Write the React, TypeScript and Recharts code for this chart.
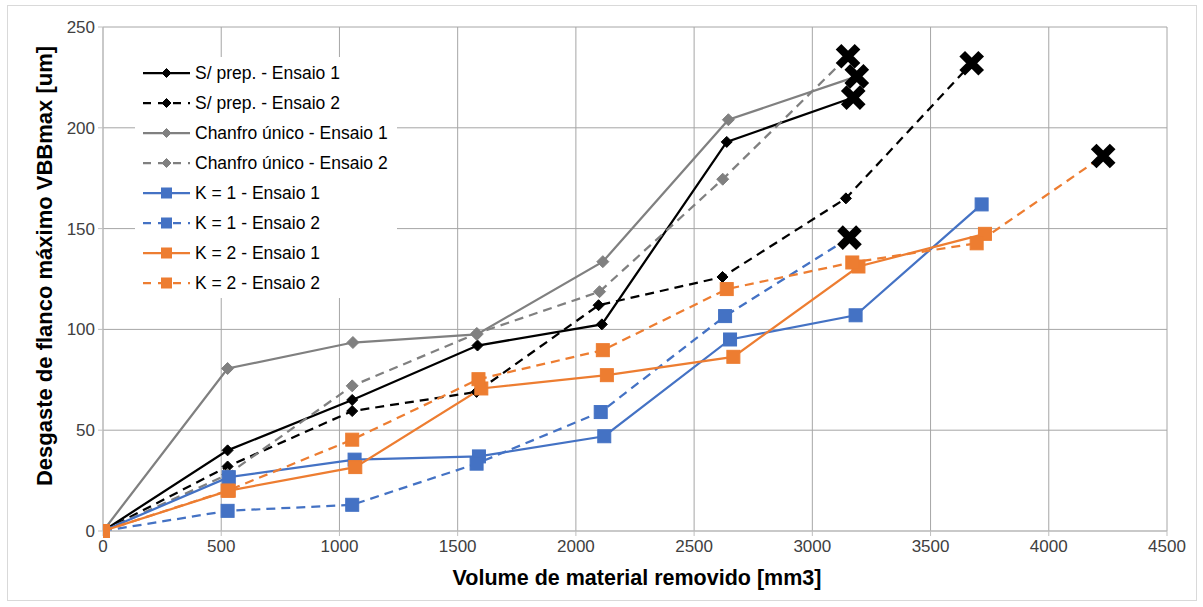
import { LineChart, Line, XAxis, YAxis, CartesianGrid } from 'recharts';

// Volume removido [mm3] e desgaste VBBmax [um]
const S_PREP_1_X = [0, 527, 1054, 1584, 2110, 2638, 3173];
const S_PREP_1_Y = [0, 40, 65, 92, 102.5, 193, 215];
const S_PREP_2_X = [0, 527, 1054, 1580, 2096, 2620, 3142, 3674];
const S_PREP_2_Y = [0, 32, 59.5, 69, 112, 126, 165, 232];
const CHANFRO_1_X = [0, 527, 1057, 1581, 2114, 2645, 3188];
const CHANFRO_1_Y = [0, 80.6, 93.5, 97.5, 133.6, 204, 225.5];
const CHANFRO_2_X = [0, 527, 1054, 1581, 2100, 2621, 3151];
const CHANFRO_2_Y = [0, 28, 72, 98, 118.7, 174.5, 235.5];
const K1_1_X = [0, 532, 1064, 1590, 2120, 2652, 3183, 3716];
const K1_1_Y = [0, 26.7, 35.4, 37, 47, 95, 107, 162];
const K1_2_X = [0, 527, 1054, 1580, 2105, 2631, 3157];
const K1_2_Y = [0, 10, 13, 33.4, 59, 106.6, 145.5];
const K2_1_X = [0, 532, 1067, 1600, 2131, 2666, 3195, 3730];
const K2_1_Y = [0, 20, 31.7, 70.7, 77.3, 86.4, 131.2, 147.4];
const K2_2_X = [0, 527, 1054, 1588, 2114, 2638, 3169, 3695, 4230];
const K2_2_Y = [0, 20, 45.3, 75.3, 89.7, 120, 133.2, 142.7, 186];

const X_TICKS = [0, 500, 1000, 1500, 2000, 2500, 3000, 3500, 4000, 4500];
const Y_TICKS = [0, 50, 100, 150, 200, 250];

const FONT = '"Liberation Sans", Arial, sans-serif';
const BLACK = '#000000';
const GRAY = '#808080';
const BLUE = '#4472C4';
const ORANGE = '#ED7D31';

type Marker = 'diamond' | 'square';

const SERIES = [
  { name: 'S/ prep. - Ensaio 1', x: S_PREP_1_X, y: S_PREP_1_Y, color: BLACK, dashed: false, marker: 'diamond' as Marker, size: 5.5, failEnd: true },
  { name: 'S/ prep. - Ensaio 2', x: S_PREP_2_X, y: S_PREP_2_Y, color: BLACK, dashed: true, marker: 'diamond' as Marker, size: 5.5, failEnd: true },
  { name: 'Chanfro único - Ensaio 1', x: CHANFRO_1_X, y: CHANFRO_1_Y, color: GRAY, dashed: false, marker: 'diamond' as Marker, size: 6, failEnd: true },
  { name: 'Chanfro único - Ensaio 2', x: CHANFRO_2_X, y: CHANFRO_2_Y, color: GRAY, dashed: true, marker: 'diamond' as Marker, size: 6, failEnd: true },
  { name: 'K = 1 - Ensaio 1', x: K1_1_X, y: K1_1_Y, color: BLUE, dashed: false, marker: 'square' as Marker, size: 6.5, failEnd: false },
  { name: 'K = 1 - Ensaio 2', x: K1_2_X, y: K1_2_Y, color: BLUE, dashed: true, marker: 'square' as Marker, size: 6.5, failEnd: true },
  { name: 'K = 2 - Ensaio 1', x: K2_1_X, y: K2_1_Y, color: ORANGE, dashed: false, marker: 'square' as Marker, size: 6.5, failEnd: false },
  { name: 'K = 2 - Ensaio 2', x: K2_2_X, y: K2_2_Y, color: ORANGE, dashed: true, marker: 'square' as Marker, size: 6.5, failEnd: true },
];

const DASH = '9 6';

function MarkerShape({ cx, cy, marker, size, color }: { cx: number; cy: number; marker: Marker; size: number; color: string }) {
  if (marker === 'diamond') {
    return (
      <polygon
        points={`${cx},${cy - size} ${cx + size},${cy} ${cx},${cy + size} ${cx - size},${cy}`}
        fill={color}
        stroke={color}
      />
    );
  }
  return <rect x={cx - size} y={cy - size} width={size * 2} height={size * 2} fill={color} stroke={color} />;
}

function FailMark({ cx, cy }: { cx: number; cy: number }) {
  const r = 9.5;
  return (
    <path
      d={`M${cx - r},${cy - r} L${cx + r},${cy + r} M${cx + r},${cy - r} L${cx - r},${cy + r}`}
      stroke="#000"
      strokeWidth={8}
      fill="none"
    />
  );
}

function Legend() {
  return (
    <div
      style={{
        position: 'absolute',
        left: 135,
        top: 57,
        width: 262,
        height: 241,
        background: '#fff',
        fontFamily: FONT,
        fontSize: 17.5,
        color: '#000',
      }}
    >
      {SERIES.map((s, i) => (
        <div key={s.name} style={{ position: 'absolute', left: 0, top: 1 + i * 30, height: 30, width: 262 }}>
          <svg width={50} height={30} style={{ position: 'absolute', left: 8, top: 0 }}>
            <line
              x1={0}
              y1={15}
              x2={47}
              y2={15}
              stroke={s.color}
              strokeWidth={2.25}
              strokeDasharray={s.dashed ? '8 7' : undefined}
            />
            <MarkerShape cx={23.5} cy={15} marker={s.marker} size={s.marker === 'diamond' ? 4.5 : 5} color={s.color} />
          </svg>
          <span style={{ position: 'absolute', left: 60, top: 4, whiteSpace: 'nowrap', lineHeight: '22px' }}>{s.name}</span>
        </div>
      ))}
    </div>
  );
}

export default function App() {
  return (
    <div style={{ position: 'absolute', left: 0, top: 0, width: 1203, height: 607, background: '#fff', overflow: 'hidden' }}>
      <div
        style={{
          position: 'absolute',
          left: 7,
          top: 5,
          width: 1190,
          height: 596,
          border: '1px solid #d9d9d9',
          boxSizing: 'border-box',
        }}
      />
      <LineChart width={1203} height={607} margin={{ top: 27, right: 36, bottom: 46, left: 0 }}>
        <CartesianGrid stroke="#a6a6a6" strokeWidth={1} />
        <XAxis
          type="number"
          dataKey="x"
          domain={[0, 4500]}
          ticks={X_TICKS}
          allowDataOverflow
          height={30}
          stroke="#bfbfbf"
          tickSize={5}
          tickMargin={4}
          tick={{ fill: '#404040', fontSize: 17, fontFamily: FONT }}
        />
        <YAxis
          type="number"
          dataKey="y"
          domain={[0, 250]}
          ticks={Y_TICKS}
          width={103}
          stroke="#bfbfbf"
          tickSize={5}
          tickMargin={3}
          tick={{ fill: '#404040', fontSize: 17, fontFamily: FONT }}
        />
        {SERIES.map((s) => {
          const points = s.x.map((xv, i) => ({ x: xv, y: s.y[i] }));
          const last = points.length - 1;
          return (
            <Line
              key={s.name}
              data={points}
              dataKey="y"
              name={s.name}
              type="linear"
              stroke={s.color}
              strokeWidth={2.25}
              strokeDasharray={s.dashed ? DASH : undefined}
              isAnimationActive={false}
              activeDot={false}
              dot={(p: any) => {
                const k = `${s.name}-${p.index}`;
                if (p.cx == null || p.cy == null) return <g key={k} />;
                if (s.failEnd && p.index === last) return <FailMark key={k} cx={p.cx} cy={p.cy} />;
                return <MarkerShape key={k} cx={p.cx} cy={p.cy} marker={s.marker} size={s.size} color={s.color} />;
              }}
            />
          );
        })}
      </LineChart>
      <Legend />
      <div
        style={{
          position: 'absolute',
          left: 637,
          top: 578,
          transform: 'translate(-50%, -50%)',
          whiteSpace: 'nowrap',
          fontFamily: FONT,
          fontWeight: 'bold',
          fontSize: 21.5,
          color: '#000',
        }}
      >
        Volume de material removido [mm3]
      </div>
      <div
        style={{
          position: 'absolute',
          left: 45,
          top: 266,
          transform: 'translate(-50%, -50%) rotate(-90deg)',
          whiteSpace: 'nowrap',
          fontFamily: FONT,
          fontWeight: 'bold',
          fontSize: 22,
          color: '#000',
        }}
      >
        Desgaste de flanco máximo VBBmax [um]
      </div>
    </div>
  );
}
